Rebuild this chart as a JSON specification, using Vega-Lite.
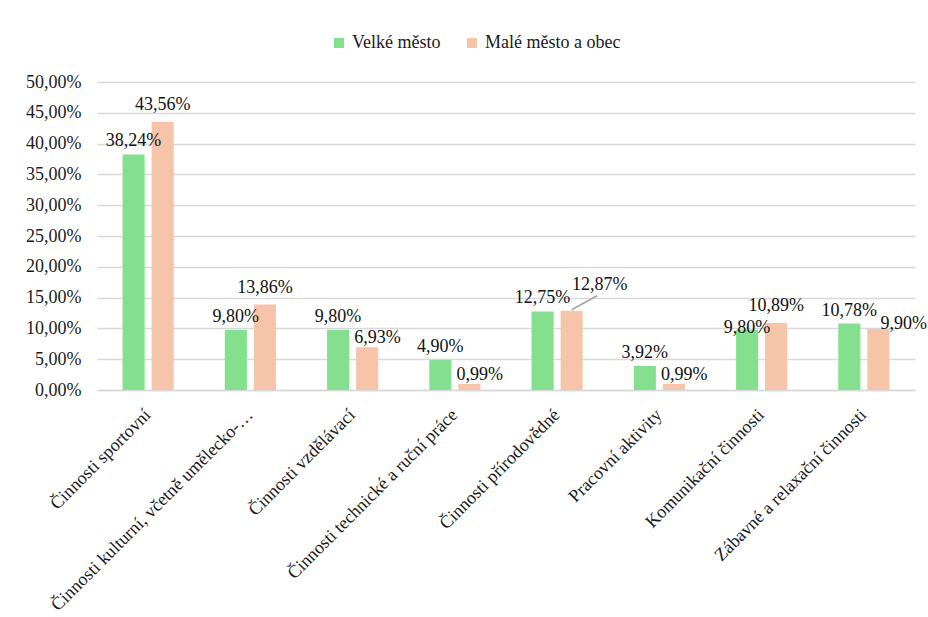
{
  "$schema": "https://vega.github.io/schema/vega-lite/v6.json",
  "width": 818,
  "height": 308,
  "autosize": {"type": "none"},
  "padding": {"left": 97, "top": 82, "right": 13, "bottom": 227},
  "background": "white",
  "config": {
    "font": "Times New Roman, Liberation Serif, serif",
    "view": {"stroke": null},
    "locale": {"number": {"decimal": ",", "thousands": " ", "grouping": [3], "currency": ["", " Kč"]}}
  },
  "data": {
    "values": [
      {"cat": "Činnosti sportovní", "series": "Velké město", "value": 0.3824},
      {"cat": "Činnosti sportovní", "series": "Malé město a obec", "value": 0.4356},
      {"cat": "Činnosti kulturní, včetně umělecko-…", "series": "Velké město", "value": 0.098},
      {"cat": "Činnosti kulturní, včetně umělecko-…", "series": "Malé město a obec", "value": 0.1386},
      {"cat": "Činnosti vzdělávací", "series": "Velké město", "value": 0.098},
      {"cat": "Činnosti vzdělávací", "series": "Malé město a obec", "value": 0.0693},
      {"cat": "Činnosti technické a ruční práce", "series": "Velké město", "value": 0.049},
      {"cat": "Činnosti technické a ruční práce", "series": "Malé město a obec", "value": 0.0099},
      {"cat": "Činnosti přírodovědné", "series": "Velké město", "value": 0.1275},
      {"cat": "Činnosti přírodovědné", "series": "Malé město a obec", "value": 0.1287},
      {"cat": "Pracovní aktivity", "series": "Velké město", "value": 0.0392},
      {"cat": "Pracovní aktivity", "series": "Malé město a obec", "value": 0.0099},
      {"cat": "Komunikační činnosti", "series": "Velké město", "value": 0.098},
      {"cat": "Komunikační činnosti", "series": "Malé město a obec", "value": 0.1089},
      {"cat": "Zábavné a relaxační činnosti", "series": "Velké město", "value": 0.1078},
      {"cat": "Zábavné a relaxační činnosti", "series": "Malé město a obec", "value": 0.099}
    ]
  },
  "transform": [
    {"joinaggregate": [{"op": "sum", "field": "value", "as": "tot"}], "groupby": ["cat"]}
  ],
  "encoding": {
    "x": {
      "field": "cat", "type": "nominal", "sort": null,
      "scale": {"paddingInner": 0.5, "paddingOuter": 0.25},
      "axis": {
        "title": null, "labelAngle": -45, "labelFont": "Times New Roman, Liberation Serif, serif", "labelFontSize": 18, "labelColor": "#1a1a1a",
        "labelAlign": "right", "labelBaseline": "middle", "labelPadding": 22, "labelLimit": 400,
        "ticks": false, "domainColor": "#d9d9d9", "domainWidth": 1.5
      }
    },
    "xOffset": {
      "field": "series", "type": "nominal", "sort": ["Velké město", "Malé město a obec"],
      "scale": {"paddingInner": 0.24, "paddingOuter": 0}
    },
    "y": {
      "field": "value", "type": "quantitative",
      "scale": {"domain": [0, 0.5], "nice": false},
      "axis": {
        "title": null, "format": ".2%", "values": [0, 0.05, 0.1, 0.15, 0.2, 0.25, 0.3, 0.35, 0.4, 0.45, 0.5],
        "labelFont": "Times New Roman, Liberation Serif, serif", "labelFontSize": 18, "labelColor": "#1a1a1a", "labelPadding": 16, "ticks": false, "domain": false,
        "gridColor": "#d9d9d9", "gridWidth": 1.5
      }
    },
    "text": {"field": "value", "type": "quantitative", "format": ".2%"}
  },
  "layer": [
    {
      "mark": {"type": "bar"},
      "encoding": {
        "text": null,
        "color": {
          "field": "series", "type": "nominal", "sort": ["Velké město", "Malé město a obec"],
          "scale": {"domain": ["Velké město", "Malé město a obec"], "range": ["#84E08E", "#F5C4A9"]},
          "legend": {
            "title": null, "orient": "none", "direction": "horizontal",
            "legendX": 233, "legendY": -48,
            "symbolType": "square", "symbolSize": 100, "symbolStrokeWidth": 0,
            "labelFont": "Times New Roman, Liberation Serif, serif", "labelFontSize": 18, "labelColor": "#1a1a1a", "columnPadding": 22, "labelOffset": 4
          }
        }
      }
    },
    {
      "transform": [{"filter": "datum.series === 'Malé město a obec' && abs(2 * datum.value - datum.tot) < 0.005"}],
      "mark": {"type": "rule", "color": "#a6a6a6", "strokeWidth": 1.5, "yOffset": -1, "x2Offset": 40, "y2Offset": -15},
      "encoding": {"text": null, "x2": {"field": "cat"}, "y2": {"field": "value"}}
    },
    {
      "transform": [{"filter": "datum.series === 'Velké město' && (datum.tot - 2 * datum.value) >= 0.005 && (datum.tot - 2 * datum.value) < 0.03"}],
      "mark": {"type": "text", "baseline": "alphabetic", "align": "center", "dy": 3, "fontSize": 18, "color": "#111"}
    },
    {
      "transform": [{"filter": "datum.series === 'Velké město' && !((datum.tot - 2 * datum.value) >= 0.005 && (datum.tot - 2 * datum.value) < 0.03)"}],
      "mark": {"type": "text", "baseline": "alphabetic", "align": "center", "dy": -8, "fontSize": 18, "color": "#111"}
    },
    {
      "transform": [{"filter": "datum.series === 'Malé město a obec' && (2 * datum.value - datum.tot) >= 0.005"}],
      "mark": {"type": "text", "baseline": "alphabetic", "align": "center", "dy": -12, "fontSize": 18, "color": "#111"}
    },
    {
      "transform": [{"filter": "datum.series === 'Malé město a obec' && abs(2 * datum.value - datum.tot) < 0.005"}],
      "mark": {"type": "text", "baseline": "alphabetic", "align": "center", "dx": 28, "dy": -21, "fontSize": 18, "color": "#111"}
    },
    {
      "transform": [{"filter": "datum.series === 'Malé město a obec' && (2 * datum.value - datum.tot) <= -0.02"}],
      "mark": {"type": "text", "baseline": "alphabetic", "align": "left", "dx": -13, "dy": -4, "fontSize": 18, "color": "#111"}
    },
    {
      "transform": [{"filter": "datum.series === 'Malé město a obec' && (2 * datum.value - datum.tot) > -0.02 && (2 * datum.value - datum.tot) <= -0.005"}],
      "mark": {"type": "text", "baseline": "alphabetic", "align": "left", "dx": 2, "dy": 0, "fontSize": 18, "color": "#111"}
    }
  ]
}
